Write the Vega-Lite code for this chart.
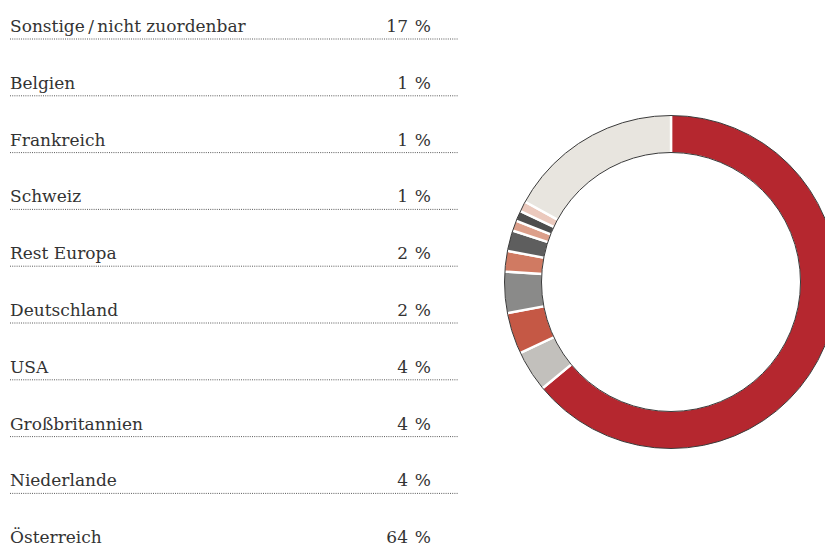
{
  "$schema": "https://vega.github.io/schema/vega-lite/v6.json",
  "width": 825,
  "height": 547,
  "padding": 0,
  "autosize": {"type": "none"},
  "background": "white",
  "config": {"view": {"stroke": null}, "font": "DejaVu Serif"},
  "data": {
    "values": [
      {"land": "Österreich", "anteil": 64, "ordnung": 1},
      {"land": "Niederlande", "anteil": 4, "ordnung": 2},
      {"land": "Großbritannien", "anteil": 4, "ordnung": 3},
      {"land": "USA", "anteil": 4, "ordnung": 4},
      {"land": "Deutschland", "anteil": 2, "ordnung": 5},
      {"land": "Rest Europa", "anteil": 2, "ordnung": 6},
      {"land": "Schweiz", "anteil": 1, "ordnung": 7},
      {"land": "Frankreich", "anteil": 1, "ordnung": 8},
      {"land": "Belgien", "anteil": 1, "ordnung": 9},
      {"land": "Sonstige\u2009/\u2009nicht zuordenbar", "anteil": 17, "ordnung": 10}
    ]
  },
  "layer": [
    {
      "mark": {"type": "arc", "outerRadius": 167.5, "innerRadius": 128.5, "stroke": "white", "strokeWidth": 2.4},
      "encoding": {
        "theta": {"field": "anteil", "type": "quantitative", "stack": true},
        "order": {"field": "ordnung", "type": "quantitative"},
        "color": {
          "field": "land",
          "type": "nominal",
          "legend": null,
          "scale": {
            "domain": ["Österreich", "Niederlande", "Großbritannien", "USA", "Deutschland", "Rest Europa", "Schweiz", "Frankreich", "Belgien", "Sonstige\u2009/\u2009nicht zuordenbar"],
            "range": ["#b5272f", "#c2c0bc", "#c55845", "#8a8a89", "#d07a62", "#5e5e5e", "#dc9f8a", "#4d4d4d", "#ebc9bd", "#e8e5df"]
          }
        },
        "x": {"value": 671},
        "y": {"value": 282}
      }
    },
    {
      "transform": [{"aggregate": [{"op": "sum", "field": "anteil", "as": "gesamt"}]}],
      "mark": {"type": "arc", "outerRadius": 166.5, "innerRadius": 129.5, "filled": false, "stroke": "#3a3a3a", "strokeWidth": 1},
      "encoding": {
        "theta": {"field": "gesamt", "type": "quantitative", "stack": true},
        "x": {"value": 671},
        "y": {"value": 282}
      }
    },
    {
      "mark": {"type": "rule", "stroke": "#5a5a5a", "strokeWidth": 1, "strokeDash": [1, 1.2], "yOffset": 7},
      "encoding": {
        "y": {
          "field": "land",
          "type": "nominal",
          "sort": {"field": "ordnung", "order": "descending"},
          "scale": {"type": "point", "range": [32, 543.2], "padding": 0},
          "axis": null
        },
        "x": {"value": 10},
        "x2": {"value": 458}
      }
    },
    {
      "mark": {"type": "text", "align": "left", "baseline": "alphabetic", "fontSize": 17, "color": "#333333"},
      "encoding": {
        "y": {"field": "land", "type": "nominal", "sort": {"field": "ordnung", "order": "descending"}},
        "x": {"value": 10},
        "text": {"field": "land"}
      }
    },
    {
      "mark": {"type": "text", "align": "right", "baseline": "alphabetic", "fontSize": 17, "color": "#333333"},
      "encoding": {
        "y": {"field": "land", "type": "nominal", "sort": {"field": "ordnung", "order": "descending"}},
        "x": {"value": 408},
        "text": {"field": "anteil", "type": "quantitative", "format": "d"}
      }
    },
    {
      "mark": {"type": "text", "align": "right", "baseline": "alphabetic", "fontSize": 17, "color": "#333333", "text": "%"},
      "encoding": {
        "y": {"field": "land", "type": "nominal", "sort": {"field": "ordnung", "order": "descending"}},
        "x": {"value": 431}
      }
    }
  ]
}
